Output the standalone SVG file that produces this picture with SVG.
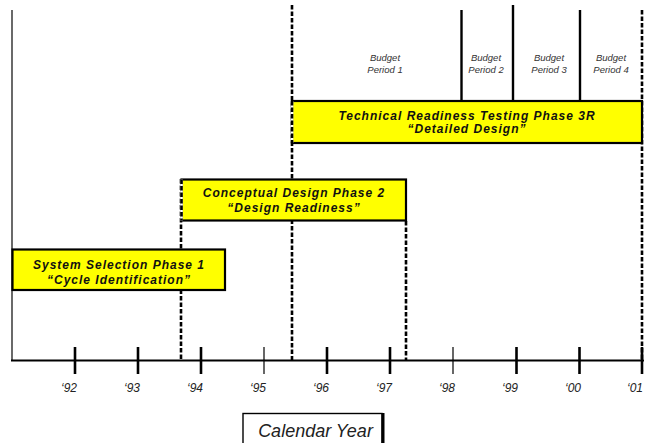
<svg xmlns="http://www.w3.org/2000/svg" width="650" height="443" viewBox="0 0 650 443">
<style>
.phase{fill:#ffff00;stroke:#000;stroke-width:2.2}
.ptxt{font-family:"Liberation Sans",Arial,sans-serif;font-size:12px;font-weight:bold;font-style:italic;letter-spacing:1px;fill:#111;text-anchor:middle}
.btxt{font-family:"Liberation Sans",Arial,sans-serif;font-size:9.5px;font-style:italic;fill:#333;text-anchor:middle}
.ytxt{font-family:"Liberation Sans",Arial,sans-serif;font-size:12px;font-style:italic;fill:#222;text-anchor:middle}
.dash{stroke:#000;stroke-width:2.6;stroke-dasharray:4.5 2;fill:none}
.dashbg{stroke:#fff;stroke-width:2.6;fill:none}
.tick{stroke:#000;stroke-width:2.6}
.thin{stroke:#000;stroke-width:1.2}
.bp{stroke:#000;stroke-width:2.4}
</style>
<rect width="650" height="443" fill="#fff"/>
<g id="connectors">
<line x1="12" y1="10" x2="12" y2="361" stroke="#444" stroke-width="1.6"/>
<line class="dash" x1="181" y1="179" x2="181" y2="360"/>
<line class="dash" x1="292" y1="5" x2="292" y2="360"/>
<line class="dash" x1="406" y1="221" x2="406" y2="360"/>
<line class="dash" x1="642" y1="10" x2="642" y2="360"/>
<line class="bp" x1="461.5" y1="10" x2="461.5" y2="101"/>
<line class="bp" x1="513" y1="5" x2="513" y2="101"/>
<line class="bp" x1="580" y1="10" x2="580" y2="101"/>
</g>
<g id="axis">
<line x1="11" y1="360.5" x2="644" y2="360.5" stroke="#000" stroke-width="2.2"/>
<line class="tick" x1="75" y1="347" x2="75" y2="374"/>
<line class="tick" x1="138" y1="347" x2="138" y2="374"/>
<line class="tick" x1="201" y1="347" x2="201" y2="374"/>
<line class="thin" x1="264" y1="347" x2="264" y2="374"/>
<line class="tick" x1="327" y1="347" x2="327" y2="374"/>
<line class="tick" x1="390" y1="347" x2="390" y2="374"/>
<line class="thin" x1="453" y1="347" x2="453" y2="374"/>
<line class="tick" x1="516.5" y1="347" x2="516.5" y2="374"/>
<line class="tick" x1="579.5" y1="347" x2="579.5" y2="374"/>
<line class="tick" x1="642" y1="347" x2="642" y2="374"/>
<text class="ytxt" x="69" y="392">‘92</text>
<text class="ytxt" x="132" y="392">‘93</text>
<text class="ytxt" x="195" y="392">‘94</text>
<text class="ytxt" x="258" y="392">‘95</text>
<text class="ytxt" x="321" y="392">‘96</text>
<text class="ytxt" x="384" y="392">‘97</text>
<text class="ytxt" x="447" y="392">‘98</text>
<text class="ytxt" x="510" y="392">‘99</text>
<text class="ytxt" x="573" y="392">‘00</text>
<text class="ytxt" x="635" y="392">‘01</text>
</g>
<g id="budget-labels">
<text class="btxt" x="385" y="61">Budget</text>
<text class="btxt" x="385" y="73">Period 1</text>
<text class="btxt" x="486" y="61">Budget</text>
<text class="btxt" x="486" y="73">Period 2</text>
<text class="btxt" x="549" y="61">Budget</text>
<text class="btxt" x="549" y="73">Period 3</text>
<text class="btxt" x="611" y="61">Budget</text>
<text class="btxt" x="611" y="73">Period 4</text>
</g>
<g id="phase3">
<rect class="phase" x="292" y="101" width="350" height="42"/>
<line class="dashbg" x1="292" y1="101" x2="292" y2="143"/>
<line class="dash" x1="292" y1="101" x2="292" y2="143"/>
<text class="ptxt" x="467" y="120">Technical Readiness Testing Phase 3R</text>
<text class="ptxt" x="467" y="133">“Detailed Design”</text>
</g>
<g id="phase2">
<rect class="phase" x="181.5" y="179.5" width="224.5" height="41"/>
<line class="dashbg" x1="181.5" y1="179.5" x2="181.5" y2="220.5"/>
<line class="dash" x1="181.5" y1="179.5" x2="181.5" y2="220.5"/>
<text class="ptxt" x="294" y="197">Conceptual Design Phase 2</text>
<text class="ptxt" x="294" y="212">“Design Readiness”</text>
</g>
<g id="phase1">
<rect class="phase" x="12.5" y="249.5" width="212.5" height="40.5"/>
<text class="ptxt" x="119" y="269">System Selection Phase 1</text>
<text class="ptxt" x="119" y="284">“Cycle Identification”</text>
</g>
<g id="calendar-year">
<rect x="243" y="413.5" width="139" height="40" fill="#fff" stroke="#000" stroke-width="1.4"/>
<line x1="383" y1="413" x2="383" y2="443" stroke="#000" stroke-width="3"/>
<text x="315.5" y="436.5" font-family="'Liberation Sans',Arial,sans-serif" font-size="18" font-style="italic" fill="#222" text-anchor="middle">Calendar Year</text>
</g>
</svg>
